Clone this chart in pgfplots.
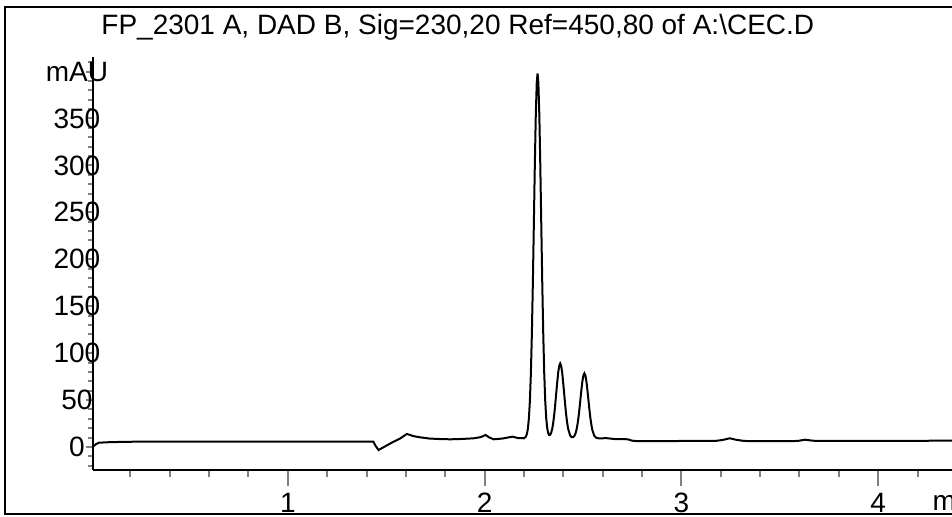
\documentclass[border=0pt]{standalone}
\usepackage{fontspec}
\setmainfont{Liberation Sans}
\usepackage{pgfplots}
\pgfplotsset{compat=1.18}

% chromatogram trace, time (min) vs absorbance (mAU)
\pgfplotstableread{
t      mau
0.010  0.3
0.025  3.0
0.041  4.6
0.100  5.2
0.210  5.6
0.500  5.6
0.800  5.7
1.100  5.6
1.300  5.6
1.435  5.6
1.445  1.5
1.461  -3.2
1.480  -1.0
1.510  2.5
1.537  5.6
1.570  9.0
1.605  13.9
1.640  11.5
1.673  10.3
1.720  9.0
1.780  8.4
1.827  8.2
1.890  8.6
1.946  9.3
1.980  10.5
2.005  12.8
2.025  10.0
2.046  8.2
2.090  9.0
2.141  11.0
2.170  9.5
2.200  9.3
2.210  11.1
2.215  14.0
2.220  19.8
2.225  30.6
2.230  49.1
2.235  78.2
2.240  119.9
2.245  173.5
2.250  235.8
2.255  299.2
2.260  353.7
2.265  388.7
2.269  398.0
2.273  388.7
2.278  353.7
2.283  299.2
2.288  235.8
2.293  173.5
2.298  119.9
2.303  78.2
2.308  49.1
2.313  30.8
2.318  20.2
2.323  14.8
2.328  12.7
2.333  13.0
2.338  15.0
2.344  19.8
2.349  26.5
2.354  35.0
2.359  45.8
2.364  57.6
2.369  68.9
2.374  79.6
2.379  86.5
2.384  89.0
2.389  86.5
2.394  79.6
2.399  68.9
2.404  57.6
2.409  45.8
2.414  35.0
2.419  26.5
2.424  19.8
2.434  12.6
2.439  11.0
2.444  10.4
2.449  10.5
2.457  12.1
2.462  14.6
2.467  18.4
2.472  24.2
2.477  31.6
2.482  40.8
2.487  51.2
2.492  61.3
2.497  70.3
2.502  76.3
2.507  78.5
2.512  76.3
2.517  70.3
2.522  61.3
2.527  51.2
2.532  40.8
2.537  31.6
2.542  24.2
2.547  18.4
2.557  12.1
2.567  9.8
2.580  9.2
2.620  9.4
2.660  8.5
2.700  8.4
2.728  8.2
2.745  7.0
2.760  6.4
2.850  6.3
3.000  6.4
3.170  6.4
3.210  7.5
3.245  9.3
3.280  7.6
3.320  6.4
3.450  6.3
3.590  6.4
3.628  7.8
3.660  6.9
3.690  6.4
3.900  6.5
4.100  6.6
4.375  6.7
}\trace

\newcommand{\lbl}{\fontsize{14}{16}\selectfont}

\begin{document}
\begin{tikzpicture}
\useasboundingbox (-46.5pt,-23.5pt) rectangle (429.5pt,235pt);
\clip (-46.5pt,-23.5pt) rectangle (429.5pt,235pt);
% outer frame of the printout (right side runs off the page)
\draw[line width=1pt] (-44pt,-22pt) rectangle (440pt,231.5pt);
\begin{axis}[
  at={(0,0)}, anchor=south west,
  scale only axis,
  width=429.5pt, height=206.5pt,
  xmin=0.01, xmax=4.375,
  ymin=-24.5, ymax=415.5,
  axis x line*=bottom, axis y line*=left,
  axis line style={-, line width=1.2pt},
  tick align=outside,
  xtick={1,2,3,4},
  minor xtick={0.2,0.4,...,4.3},
  ytick={0,50,...,400},
  yticklabels={0,50,100,150,200,250,300,350,mAU},
  minor ytick={-20,-10,...,410},
  xtick style={line width=1pt, /pgfplots/major tick length=8pt, /pgfplots/minor tick length=3.5pt},
  ytick style={line width=1pt, /pgfplots/major tick length=3.5pt, /pgfplots/minor tick length=2.5pt},
  /pgf/number format/assume math mode=true,
  tick label style={font=\lbl, inner sep=0pt},
  xticklabel style={anchor=base, yshift=-17pt},
  yticklabel style={anchor=center, xshift=-3.75pt},
  title={FP\_2301 A, DAD B, Sig=230,20 Ref=450,80 of A:\textbackslash CEC.D},
  title style={font=\lbl, at={(axis description cs:0,1)}, anchor=base west,
    xshift=4pt, yshift=5pt, inner sep=0pt},
  xlabel={min},
  xlabel style={font=\lbl, at={(axis description cs:0.977,0)}, anchor=base west,
    yshift=-20.5pt, inner sep=0pt},
]
\addplot[black, line width=1pt, mark=none] table[x=t, y=mau] {\trace};
\end{axis}
\end{tikzpicture}
\end{document}
